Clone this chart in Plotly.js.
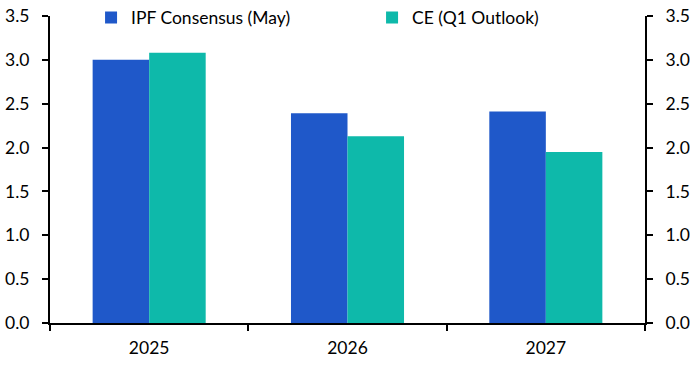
<!DOCTYPE html>
<html>
<head>
<meta charset="utf-8">
<script src="https://cdn.plot.ly/plotly-3.0.1.min.js"></script>
<style>html,body{margin:0;padding:0;background:#fff;}#chart{width:694px;height:376px;}</style>
</head>
<body>
<div id="chart"></div>
<script>
const categories = ["2025", "2026", "2027"];
const ipfConsensus = [3.0, 2.39, 2.41];
const ceOutlook = [3.08, 2.13, 1.95];
const seriesNames = ["IPF Consensus (May)", "CE (Q1 Outlook)"];
const yTicks = [0, 0.5, 1, 1.5, 2, 2.5, 3, 3.5];
const yTickLabels = ["0.0", "0.5", "1.0", "1.5", "2.0", "2.5", "3.0", "3.5"];

const FONT = "Lato, sans-serif";
const FS = 17.5;
const traces = [
  {type: "bar", x: categories, y: ipfConsensus, name: seriesNames[0], marker: {color: "#1f58c9"}},
  {type: "bar", x: categories, y: ceOutlook, name: seriesNames[1], marker: {color: "#0eb9aa"}},
  // carrier for the right-hand axis (draws nothing)
  {type: "scatter", mode: "none", x: categories, y: ipfConsensus, yaxis: "y2", showlegend: false, hoverinfo: "skip"}
];
const yCommon = {
  range: [0, 3.5], tickvals: yTicks, ticktext: yTickLabels,
  showline: true, linecolor: "#000", linewidth: 2,
  ticks: "outside", ticklen: 6, tickwidth: 2, tickcolor: "#000",
  showgrid: false, zeroline: false, fixedrange: true, ticklabelstandoff: 9,
  tickfont: {family: FONT, size: FS, color: "#000"}
};
const layout = {
  width: 694, height: 376,
  margin: {l: 50, r: 49, t: 16, b: 53, autoexpand: false},
  paper_bgcolor: "#fff", plot_bgcolor: "rgba(0,0,0,0)",
  barmode: "group", bargap: 0.43, bargroupgap: 0,
  showlegend: true,
  legend: {orientation: "h", x: 0.069, xanchor: "left", y: 0.995, yanchor: "middle",
           font: {family: FONT, size: FS, color: "#000"}, itemwidth: 30, traceorder: "normal",
           entrywidth: 236, entrywidthmode: "pixels",
           bgcolor: "rgba(0,0,0,0)"},
  xaxis: {
    type: "category", showline: true, linecolor: "#000", linewidth: 2,
    ticks: "outside", tickson: "boundaries", ticklen: 6, tickwidth: 2, tickcolor: "#000",
    showgrid: false, ticklabelstandoff: 8, tickfont: {family: FONT, size: FS, color: "#000"}
  },
  yaxis: Object.assign({side: "left"}, yCommon),
  yaxis2: Object.assign({side: "right", overlaying: "y"}, yCommon)
};
Plotly.newPlot("chart", traces, layout, {displayModeBar: false, staticPlot: true});
</script>
</body>
</html>
